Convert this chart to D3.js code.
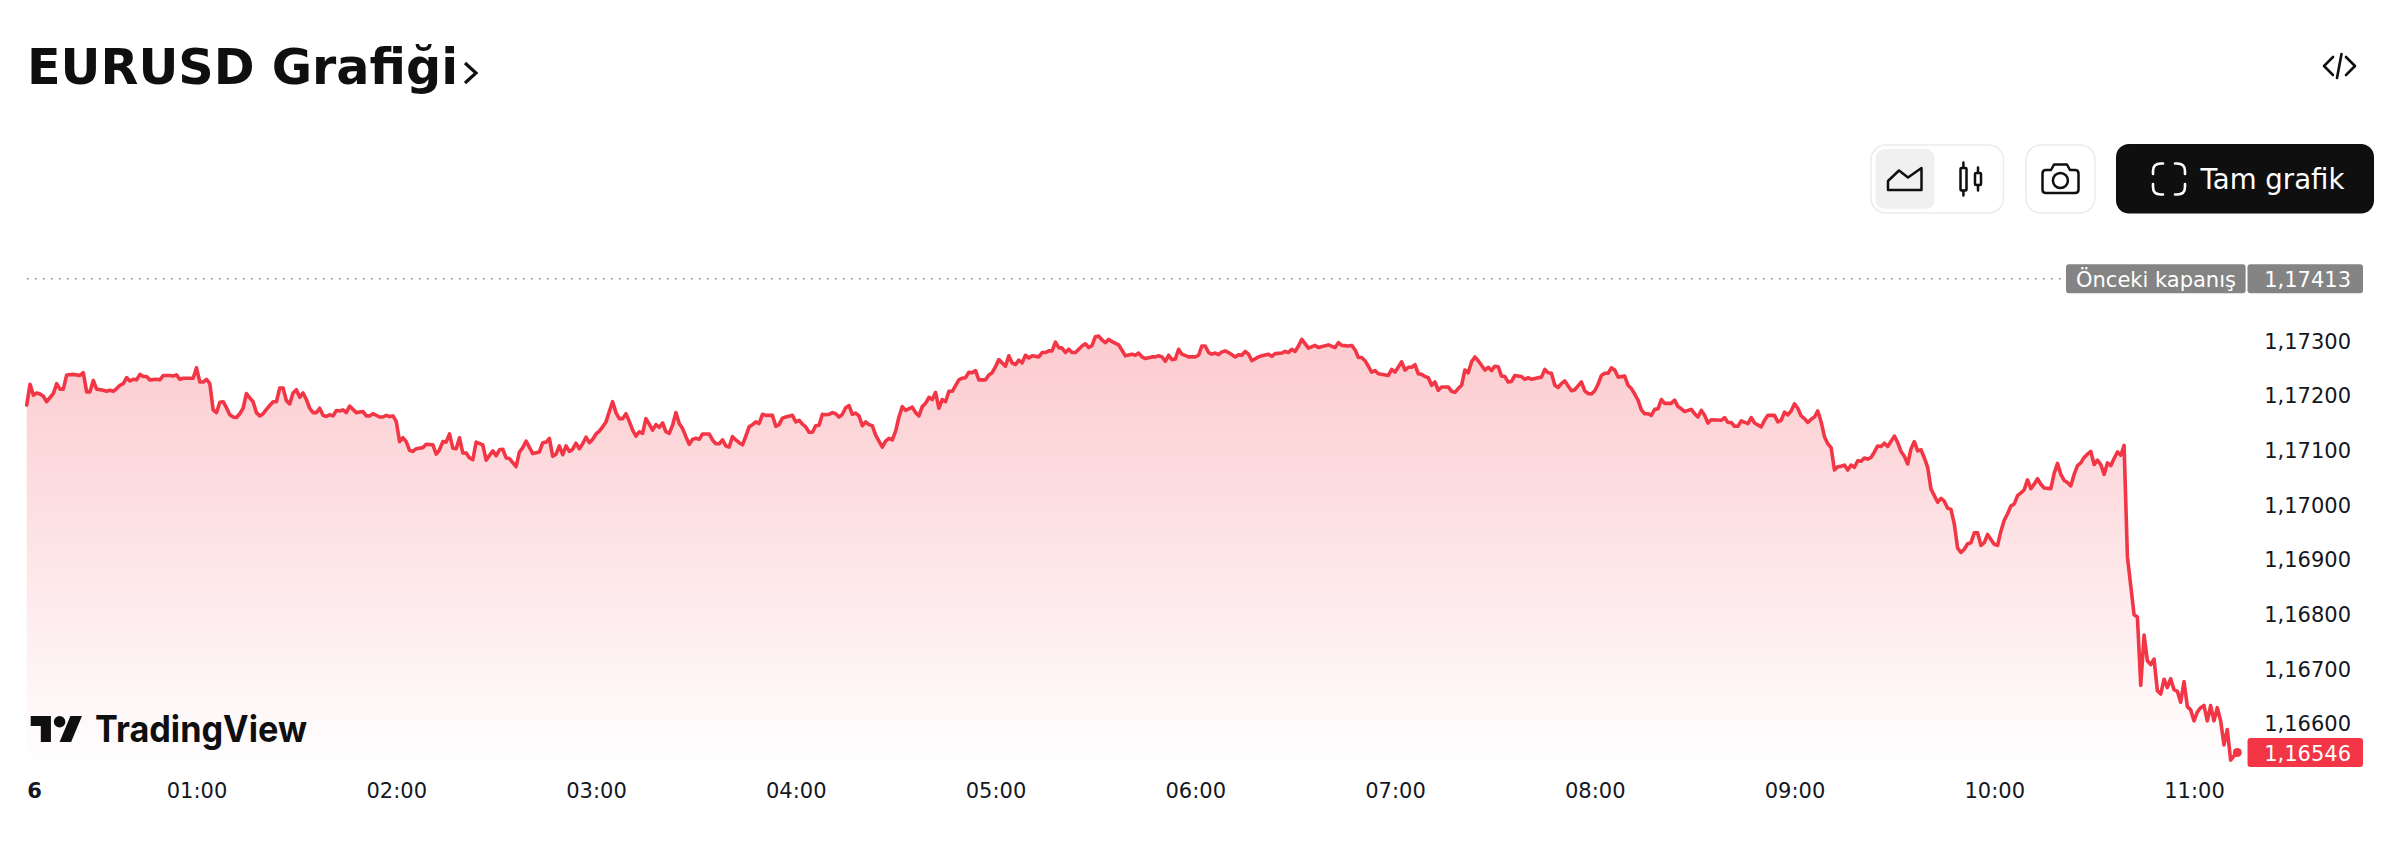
<!DOCTYPE html>
<html lang="tr">
<head>
<meta charset="utf-8">
<title>EURUSD Grafiği</title>
<script src="https://cdn.jsdelivr.net/npm/d3@7/dist/d3.min.js"></script>
<style>
html,body{margin:0;padding:0;background:#fff;overflow:hidden}
svg{display:block}
text{font-family:"DejaVu Sans",sans-serif}
</style>
</head>
<body>
<svg id="chart" width="2385" height="841"></svg>
<script>
const titleText = "EURUSD Grafiği";
const priceTicks = [1.173,1.172,1.171,1.170,1.169,1.168,1.167,1.166];
const timeTickMinutes = [11.2,60,120,180,240,300,360,420,480,540,600,660];
const timeTickLabels = ["6","01:00","02:00","03:00","04:00","05:00","06:00","07:00","08:00","09:00","10:00","11:00"];
const previousClose = 1.17413;
const lastPrice = 1.16546;
// [minutes after midnight, price]
const closeSeries = [
[9,1.17182],[10,1.17220],[11,1.17200],[12,1.17204],[13,1.17202],[14,1.17198],[15,1.17188],[17,1.17203],[18,1.17221],[19,1.17211],[20,1.17211],[21,1.17237],[23,1.17238],[25,1.17236],[26,1.17241],[27,1.17206],[28,1.17206],[29,1.17227],[30,1.17211],[32,1.17209],[33,1.17207],[34,1.17209],[35,1.17207],[36,1.17212],[37,1.17218],[38,1.17221],[39,1.17232],[40,1.17226],[41,1.17229],[42,1.17228],[43,1.17238],[44,1.17234],[45,1.17234],[46,1.17228],[48,1.17229],[49,1.17228],[50,1.17236],[52,1.17236],[53,1.17235],[54,1.17237],[55,1.17229],[56,1.17231],[59,1.17231],
[60,1.17250],[61,1.17224],[62,1.17224],[63,1.17229],[64,1.17221],[65,1.17173],[66,1.17168],[67,1.17187],[68,1.17188],[69,1.17177],[70,1.17164],[71,1.17160],[72,1.17159],[73,1.17166],[74,1.17176],[75,1.17203],[76,1.17195],[77,1.17188],[78,1.17168],[79,1.17162],[80,1.17166],[81,1.17174],[82,1.17181],[83,1.17188],[84,1.17188],[85,1.17213],[86,1.17213],[87,1.17190],[88,1.17184],[89,1.17204],[90,1.17210],[91,1.17196],[92,1.17204],[93,1.17192],[94,1.17176],[95,1.17168],[96,1.17168],[97,1.17176],[98,1.17163],[99,1.17161],[100,1.17164],[101,1.17162],[102,1.17172],[103,1.17171],[104,1.17173],[105,1.17168],[106,1.17180],[107,1.17174],[108,1.17168],[110,1.17170],[111,1.17162],[112,1.17162],[113,1.17166],[115,1.17160],[116,1.17160],[117,1.17163],[118,1.17161],[119,1.17162],
[120,1.17152],[121,1.17115],[122,1.17122],[123,1.17115],[124,1.17099],[125,1.17097],[126,1.17102],[128,1.17104],[129,1.17110],[131,1.17109],[132,1.17092],[133,1.17100],[134,1.17115],[135,1.17114],[136,1.17129],[137,1.17103],[138,1.17102],[139,1.17122],[140,1.17094],[141,1.17094],[142,1.17085],[143,1.17082],[144,1.17114],[146,1.17109],[147,1.17081],[149,1.17098],[150,1.17089],[151,1.17100],[152,1.17101],[153,1.17085],[154,1.17084],[156,1.17069],[157,1.17096],[158,1.17104],[159,1.17116],[161,1.17093],[163,1.17096],[164,1.17113],[165,1.17114],[166,1.17121],[167,1.17088],[168,1.17092],[169,1.17107],[170,1.17091],[171,1.17107],[172,1.17097],[173,1.17101],[174,1.17112],[175,1.17102],[176,1.17111],[177,1.17123],[178,1.17113],[179,1.17119],
[180,1.17129],[181,1.17134],[182,1.17142],[183,1.17151],[184,1.17170],[185,1.17188],[186,1.17168],[187,1.17157],[188,1.17157],[189,1.17166],[190,1.17152],[191,1.17136],[192,1.17125],[193,1.17133],[194,1.17130],[195,1.17157],[196,1.17147],[197,1.17136],[198,1.17146],[199,1.17141],[200,1.17149],[201,1.17133],[202,1.17130],[203,1.17145],[204,1.17168],[205,1.17148],[206,1.17139],[207,1.17124],[208,1.17110],[209,1.17119],[210,1.17121],[211,1.17119],[212,1.17129],[214,1.17129],[215,1.17118],[216,1.17111],[217,1.17111],[218,1.17118],[219,1.17107],[220,1.17105],[221,1.17124],[222,1.17118],[223,1.17113],[224,1.17109],[225,1.17125],[226,1.17142],[227,1.17146],[228,1.17151],[229,1.17148],[230,1.17165],[231,1.17163],[233,1.17163],[234,1.17143],[235,1.17146],[236,1.17158],[237,1.17160],[239,1.17163],
[240,1.17151],[241,1.17154],[242,1.17147],[243,1.17142],[244,1.17132],[245,1.17132],[246,1.17144],[247,1.17145],[248,1.17165],[249,1.17164],[250,1.17165],[251,1.17168],[252,1.17166],[253,1.17160],[254,1.17165],[255,1.17177],[256,1.17181],[257,1.17165],[258,1.17167],[259,1.17162],[260,1.17144],[261,1.17151],[262,1.17146],[263,1.17144],[264,1.17127],[266,1.17105],[267,1.17116],[268,1.17121],[269,1.17118],[270,1.17134],[271,1.17160],[272,1.17179],[273,1.17172],[275,1.17178],[276,1.17168],[277,1.17162],[278,1.17179],[279,1.17185],[280,1.17196],[281,1.17192],[282,1.17205],[283,1.17176],[284,1.17192],[285,1.17188],[286,1.17207],[287,1.17207],[289,1.17228],[290,1.17231],[291,1.17232],[292,1.17242],[293,1.17241],[294,1.17245],[295,1.17228],[297,1.17228],[298,1.17237],[299,1.17241],
[300,1.17252],[301,1.17265],[303,1.17253],[304,1.17272],[305,1.17259],[306,1.17256],[307,1.17264],[308,1.17259],[309,1.17273],[310,1.17268],[311,1.17272],[313,1.17270],[314,1.17278],[315,1.17278],[316,1.17281],[317,1.17281],[318,1.17297],[319,1.17287],[320,1.17286],[321,1.17278],[322,1.17284],[323,1.17278],[324,1.17278],[325,1.17284],[326,1.17290],[327,1.17294],[328,1.17287],[329,1.17291],[330,1.17307],[331,1.17308],[332,1.17301],[333,1.17296],[334,1.17302],[335,1.17298],[337,1.17292],[339,1.17272],[341,1.17275],[342,1.17273],[343,1.17277],[344,1.17270],[345,1.17267],[347,1.17270],[348,1.17270],[349,1.17272],[350,1.17270],[351,1.17262],[352,1.17273],[353,1.17265],[354,1.17266],[355,1.17284],[356,1.17275],[358,1.17270],[360,1.17270],
[361,1.17273],[362,1.17290],[363,1.17290],[364,1.17278],[365,1.17275],[366,1.17277],[367,1.17274],[368,1.17279],[369,1.17281],[370,1.17278],[372,1.17270],[373,1.17274],[374,1.17273],[375,1.17280],[376,1.17275],[377,1.17263],[379,1.17270],[380,1.17272],[382,1.17275],[383,1.17271],[384,1.17276],[386,1.17277],[387,1.17280],[388,1.17278],[389,1.17284],[390,1.17280],[391,1.17290],[392,1.17302],[394,1.17286],[396,1.17291],[397,1.17287],[400,1.17292],[402,1.17287],[403,1.17296],[404,1.17291],[406,1.17290],[407,1.17291],[408,1.17283],[409,1.17269],[410,1.17269],[411,1.17263],[413,1.17242],[414,1.17245],[415,1.17239],[418,1.17236],[419,1.17247],
[420,1.17242],[422,1.17261],[423,1.17246],[424,1.17251],[425,1.17251],[426,1.17256],[427,1.17239],[428,1.17238],[429,1.17234],[430,1.17232],[431,1.17218],[432,1.17224],[433,1.17209],[434,1.17215],[436,1.17215],[437,1.17207],[438,1.17205],[439,1.17212],[440,1.17218],[441,1.17246],[442,1.17241],[443,1.17261],[444,1.17270],[445,1.17263],[447,1.17246],[448,1.17251],[449,1.17245],[450,1.17253],[451,1.17252],[452,1.17235],[453,1.17234],[454,1.17224],[455,1.17225],[456,1.17236],[458,1.17234],[459,1.17229],[460,1.17232],[461,1.17229],[463,1.17232],[464,1.17233],[465,1.17247],[466,1.17241],[467,1.17240],[468,1.17218],[469,1.17214],[470,1.17221],[471,1.17226],[473,1.17208],[474,1.17210],[476,1.17224],[477,1.17208],[478,1.17203],[479,1.17202],
[480,1.17208],[481,1.17220],[482,1.17236],[483,1.17240],[484,1.17240],[485,1.17250],[486,1.17246],[487,1.17233],[489,1.17235],[490,1.17218],[491,1.17212],[492,1.17202],[493,1.17191],[494,1.17173],[495,1.17166],[496,1.17166],[497,1.17163],[498,1.17174],[499,1.17175],[500,1.17192],[501,1.17185],[503,1.17185],[504,1.17191],[505,1.17179],[506,1.17175],[507,1.17170],[509,1.17174],[510,1.17166],[511,1.17160],[512,1.17172],[513,1.17163],[514,1.17149],[515,1.17155],[518,1.17154],[519,1.17159],[520,1.17150],[521,1.17150],[522,1.17143],[523,1.17143],[524,1.17153],[526,1.17148],[527,1.17159],[528,1.17149],[530,1.17142],[531,1.17154],[532,1.17163],[534,1.17163],[535,1.17151],[536,1.17154],[537,1.17169],[538,1.17164],[539,1.17171],
[540,1.17184],[541,1.17176],[542,1.17162],[543,1.17157],[544,1.17150],[545,1.17156],[546,1.17160],[547,1.17171],[548,1.17151],[549,1.17124],[550,1.17111],[551,1.17104],[552,1.17063],[553,1.17069],[554,1.17070],[555,1.17072],[556,1.17063],[557,1.17072],[558,1.17068],[559,1.17080],[560,1.17079],[561,1.17085],[562,1.17083],[563,1.17086],[564,1.17096],[565,1.17107],[566,1.17106],[567,1.17112],[568,1.17106],[570,1.17125],[571,1.17113],[572,1.17097],[573,1.17088],[574,1.17074],[575,1.17102],[576,1.17115],[577,1.17098],[578,1.17100],[579,1.17085],[580,1.17068],[581,1.17028],[582,1.17016],[583,1.17004],[584,1.17011],[585,1.17006],[586,1.16993],[587,1.16991],[588,1.16964],[589,1.16920],[590,1.16912],[591,1.16918],[592,1.16928],[593,1.16930],[594,1.16948],[595,1.16948],[596,1.16925],[597,1.16930],[598,1.16945],[599,1.16936],
[600,1.16927],[601,1.16925],[602,1.16951],[603,1.16971],[604,1.16983],[605,1.16997],[606,1.17001],[607,1.17016],[608,1.17021],[609,1.17027],[610,1.17045],[611,1.17029],[612,1.17037],[613,1.17047],[614,1.17037],[615,1.17030],[617,1.17029],[618,1.17057],[619,1.17075],[620,1.17055],[621,1.17044],[622,1.17040],[623,1.17034],[624,1.17055],[625,1.17071],[626,1.17076],[627,1.17086],[628,1.17092],[629,1.17097],[630,1.17073],[631,1.17081],[632,1.17073],[633,1.17055],[634,1.17076],[635,1.17071],[636,1.17084],[637,1.17096],[638,1.17090],[639,1.17108],
[640,1.16904],[642,1.16798],[643,1.16794],[644,1.16669],[645,1.16761],[646,1.16714],[647,1.16707],[648,1.16717],[649,1.16659],[650,1.16653],[651,1.16680],[652,1.16665],[653,1.16681],[654,1.16661],[655,1.16658],[656,1.16638],[657,1.16676],[658,1.16630],[659,1.16624],[660,1.16604],[661,1.16620],[662,1.16628],[663,1.16632],[664,1.16604],[665,1.16632],[666,1.16604],[667,1.16628],[668,1.16604],[669,1.16560],[670,1.16588],[671,1.16532],[672,1.16540],[673,1.16546]
];

const INK = "#0f0f0f", RED = "#f23645", GREY = "#848484";
const svg = d3.select("#chart");

const x = d3.scaleLinear().domain([60,660]).range([196.5,2194]);
const y = d3.scaleLinear().domain([1.166,1.173]).range([723,340.5]);
const fmt = v => d3.format(".5f")(v).replace(".", ",");

// area gradient
const grad = svg.append("defs").append("linearGradient")
  .attr("id","areaFill").attr("gradientUnits","userSpaceOnUse")
  .attr("x1",0).attr("x2",0).attr("y1",y(1.17308)).attr("y2",770);
grad.append("stop").attr("offset",0).attr("stop-color",RED).attr("stop-opacity",0.26);
grad.append("stop").attr("offset",1).attr("stop-color",RED).attr("stop-opacity",0);

svg.append("path").datum(closeSeries)
  .attr("fill","url(#areaFill)")
  .attr("d",d3.area().x(d=>x(d[0])).y0(770).y1(d=>y(d[1])));

svg.append("path").datum(closeSeries)
  .attr("fill","none").attr("stroke",RED).attr("stroke-width",3.6)
  .attr("stroke-linejoin","round").attr("stroke-linecap","round")
  .attr("d",d3.line().x(d=>x(d[0])).y(d=>y(d[1])));

const last = closeSeries[closeSeries.length-1];
svg.append("circle").attr("cx",x(last[0])).attr("cy",y(lastPrice)).attr("r",4.5).attr("fill",RED);

// previous close
svg.append("line").attr("x1",27).attr("x2",2066)
  .attr("y1",y(previousClose)).attr("y2",y(previousClose))
  .attr("stroke",GREY).attr("stroke-width",1.5).attr("stroke-dasharray","1.5 6.5");

// price axis
const yAxis = d3.axisRight(y).tickValues(priceTicks).tickFormat(fmt).tickSize(0).tickPadding(0);
const yG = svg.append("g").attr("transform","translate(2351,1)").call(yAxis);
yG.select(".domain").remove();
yG.selectAll("text").attr("text-anchor","end").attr("font-size",21).attr("fill","#131722")
  .style("font-family",'"DejaVu Sans",sans-serif');

// time axis
const tLabel = new Map(timeTickMinutes.map((m,i)=>[m,timeTickLabels[i]]));
const xAxis = d3.axisBottom(x).tickValues(timeTickMinutes).tickFormat(m=>tLabel.get(m)).tickSize(0).tickPadding(0);
const xG = svg.append("g").attr("transform","translate(0,783)").call(xAxis);
xG.select(".domain").remove();
xG.selectAll("text").attr("font-size",21).attr("fill","#131722")
  .style("font-family",'"DejaVu Sans",sans-serif')
  .attr("font-weight",(m)=>m===timeTickMinutes[0]?"700":"400");

// price labels
function tag(x0,x1,yc,fill,txt,tx,anchor){
  svg.append("rect").attr("x",x0).attr("y",yc-14.6).attr("width",x1-x0).attr("height",29.2).attr("rx",3).attr("fill",fill);
  svg.append("text").attr("x",tx).attr("y",yc+1).attr("dy","0.36em").attr("text-anchor",anchor)
    .attr("font-size",21).attr("fill","#fff").text(txt);
}
tag(2066,2245.6,y(previousClose),GREY,"Önceki kapanış",2076,"start");
tag(2247.5,2363,y(previousClose),GREY,fmt(previousClose),2351,"end");
tag(2247.5,2363,y(lastPrice),RED,fmt(lastPrice),2351,"end");

// title
svg.append("text").attr("x",27).attr("y",84).attr("font-size",49.2).attr("font-weight",700).attr("fill",INK).text(titleText);
svg.append("path").attr("d","M465 63L476 73L465 83").attr("fill","none").attr("stroke",INK).attr("stroke-width",3.2);

// embed icon
svg.append("path").attr("d","M2333 57L2324 66L2333 75M2346 57L2355 66L2346 75M2341.5 54L2337 78")
  .attr("fill","none").attr("stroke",INK).attr("stroke-width",2.6).attr("stroke-linecap","round").attr("stroke-linejoin","round");

// toolbar
const boxes = [[1871,2003.5],[2026,2095]];
boxes.forEach(b=>svg.append("rect").attr("x",b[0]).attr("y",145).attr("width",b[1]-b[0]).attr("height",68)
  .attr("rx",15).attr("fill","#fff").attr("stroke","#ebebeb").attr("stroke-width",1.5));
svg.append("rect").attr("x",1875.5).attr("y",149).attr("width",59).attr("height",60).attr("rx",9).attr("fill","#f0f0f0");
const icon = {fill:"none",stroke:INK,"stroke-width":2.5,"stroke-linejoin":"round","stroke-linecap":"round"};
function glyph(d){const p=svg.append("path").attr("d",d);Object.entries(icon).forEach(([k,v])=>p.attr(k,v));return p;}
glyph("M1888 181L1899 170.5L1908 177.5L1921.5 168V190H1888Z");
glyph("M1963.4 162.5V167.5M1963.4 190.5V195.5M1978 167.5V172.5M1978 185V190.5");
svg.append("rect").attr("x",1960.5).attr("y",168).attr("width",6).attr("height",22.5).attr("rx",1).attr("fill","none").attr("stroke",INK).attr("stroke-width",2.5);
svg.append("rect").attr("x",1975).attr("y",173).attr("width",6).attr("height",12).attr("rx",1).attr("fill","none").attr("stroke",INK).attr("stroke-width",2.5);
glyph("M2046 170H2051L2054 164.5H2067L2070 170H2075Q2078.5 170 2078.5 173.5V189.5Q2078.5 193 2075 193H2046Q2042.5 193 2042.5 189.5V173.5Q2042.5 170 2046 170Z");
svg.append("circle").attr("cx",2060.4).attr("cy",180.5).attr("r",7.5).attr("fill","none").attr("stroke",INK).attr("stroke-width",2.5);

svg.append("rect").attr("x",2116).attr("y",144).attr("width",258).attr("height",69.5).attr("rx",13).attr("fill",INK);
svg.append("path").attr("d",
 "M2153 174V171Q2153 163.5 2161 163.5H2163M2175 163.5H2177Q2185 163.5 2185 171V174M2185 184V187Q2185 194.5 2177 194.5H2175M2163 194.5H2161Q2153 194.5 2153 187V184")
 .attr("fill","none").attr("stroke","#fff").attr("stroke-width",2.6).attr("stroke-linecap","round");
svg.append("text").attr("x",2200.5).attr("y",189).attr("font-size",27.6).attr("fill","#fff").text("Tam grafik");

// logo
const logo = svg.append("g").attr("transform","translate(30.7,710.2) scale(1.444)").attr("fill",INK);
logo.append("path").attr("d","M14 22H7V11H0V4h14v18zM28 22h-8l7.5-18h8L28 22z");
logo.append("circle").attr("cx",20).attr("cy",8).attr("r",4);
svg.append("text").attr("x",95).attr("y",741.5).attr("font-size",37).attr("font-weight",700)
  .style("font-family","Inter, sans-serif").attr("fill",INK)
  .attr("textLength",212).attr("lengthAdjust","spacingAndGlyphs").text("TradingView");
</script>
</body>
</html>
